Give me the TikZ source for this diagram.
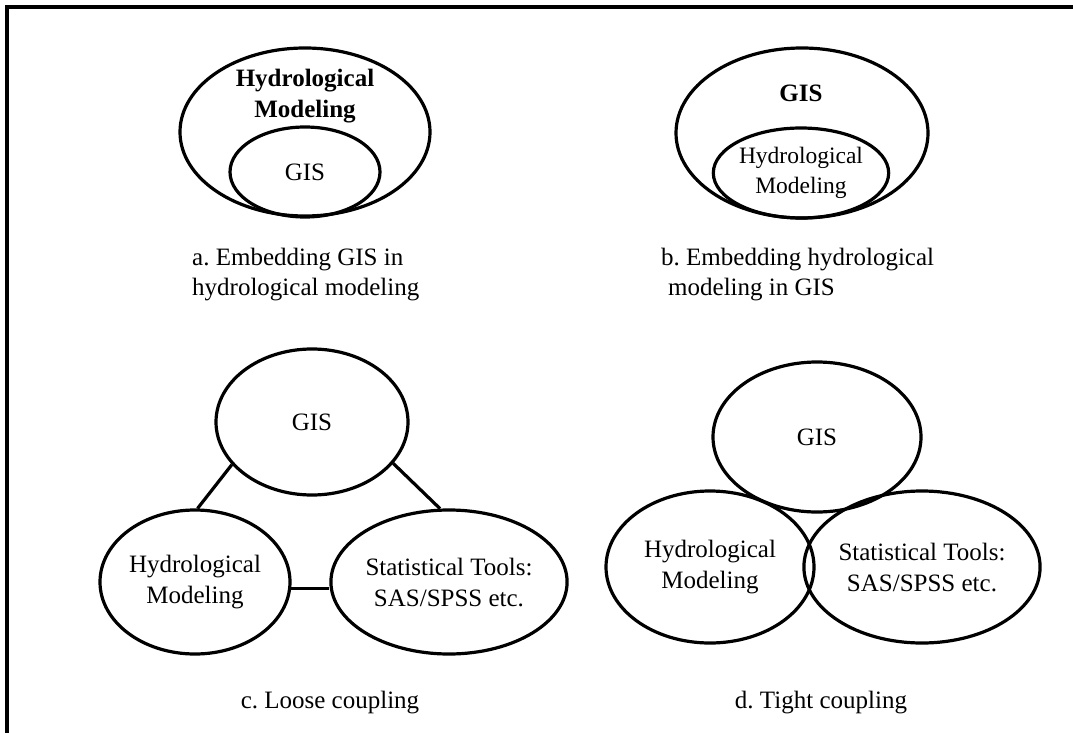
\documentclass[tikz,border=0pt]{standalone}
\usepackage{fontspec}
\setmainfont{Liberation Serif}
\usetikzlibrary{shapes.geometric}
\frenchspacing
\begin{document}
\begin{tikzpicture}[x=1pt,y=-1pt,
  oval/.style={draw=black, line width=3.2pt, ellipse, inner sep=0pt, align=center,
    font=\fontsize{25}{31}\selectfont},
  label/.style={inner sep=0pt, align=center, font=\fontsize{25}{31}\selectfont},
  caption/.style={inner sep=0pt, font=\fontsize{25}{30}\selectfont},
  link/.style={draw=black, line width=3.2pt}]
\useasboundingbox (0,0) rectangle (1073,733);
\fill[white] (0,0) rectangle (1073,733);
% outer frame (left and top edges)
\draw[line width=3.4pt] (7,733) -- (7,7) -- (1073,7);

% a. GIS embedded in hydrological modeling
\node[oval, minimum width=250pt, minimum height=168pt] (aout) at (305,132) {};
\node[oval, minimum width=150pt, minimum height=90pt] (ain) at (305,172) {GIS};
\node[label, font=\fontsize{25}{31}\selectfont\bfseries] (atitle) at (305,96) {Hydrological\\Modeling};
\node[caption, anchor=west, align=left] (acap) at (192,275) {a. Embedding GIS in\\hydrological modeling};

% b. hydrological modeling embedded in GIS
\node[oval, minimum width=252pt, minimum height=170pt] (bout) at (802,133) {};
\node[oval, minimum width=150pt, minimum height=90pt, font=\fontsize{23.5}{30}\selectfont] (bin) at (801,173) {Hydrological\\Modeling};
\node[label, font=\fontsize{25}{31}\selectfont\bfseries] (btitle) at (801,93) {GIS};
\node[caption, anchor=west, align=left] (bcap) at (661,275) {b. Embedding hydrological\\\hspace{7pt}modeling in GIS};

% c. loose coupling
\node[oval, minimum width=192pt, minimum height=146pt] (cgis) at (312,422) {GIS};
\node[oval, minimum width=190pt, minimum height=144pt] (chyd) at (195,582) {Hydrological\\Modeling};
\node[oval, minimum width=212pt, minimum height=144pt] (cstat) at (449,582) {Statistical Tools:\\SAS/SPSS etc.};
\draw[link] (cgis.208) -- (chyd.88);
\draw[link] (cgis.333) -- (cstat.97);
\draw[link] (chyd.-4) -- (chyd.-4 -| cstat.west);
\node[caption] (ccap) at (330,703) {c. Loose coupling};

% d. tight coupling
\node[oval, minimum width=208pt, minimum height=150pt] (dgis) at (817,437) {GIS};
\node[oval, minimum width=208pt, minimum height=152pt] (dhyd) at (710,567) {Hydrological\\Modeling};
\node[oval, minimum width=208pt, minimum height=152pt] (dstat) at (922,567) {Statistical Tools:\\SAS/SPSS etc.};
\node[caption] (dcap) at (821,703) {d. Tight coupling};
\end{tikzpicture}
\end{document}
